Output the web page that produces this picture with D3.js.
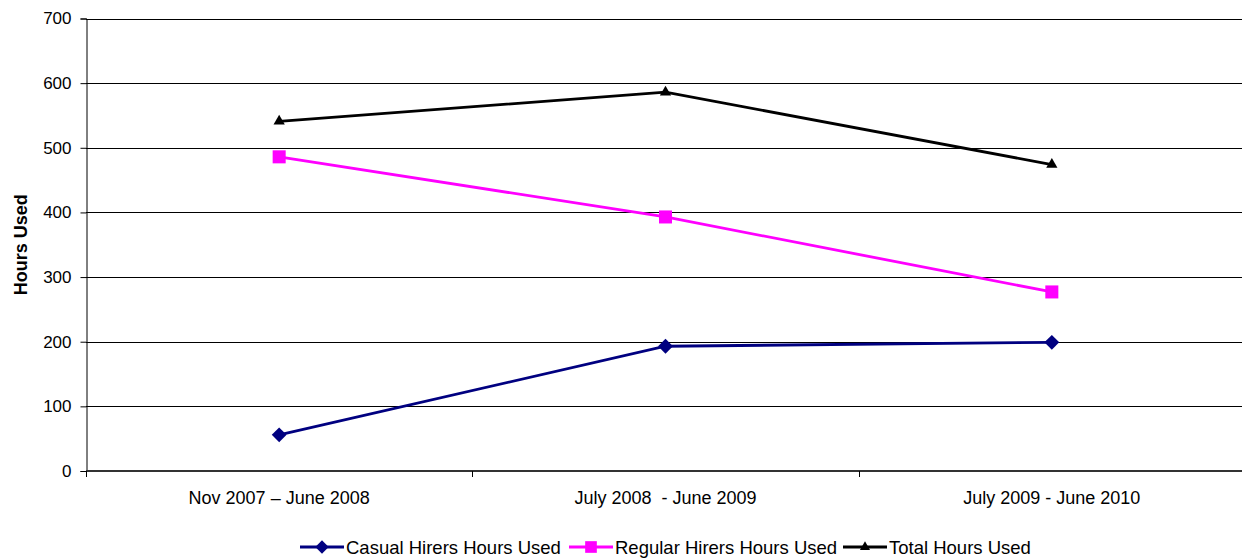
<!DOCTYPE html>
<html><head><meta charset="utf-8">
<script src="https://cdn.jsdelivr.net/npm/d3@7"></script>
<style>body{margin:0;background:#fff}svg{display:block;font-family:"Liberation Sans",Arial,sans-serif}</style>
</head><body>
<svg id="c" width="1242" height="558"></svg>
<script>
const categories = ["Nov 2007 \u2013 June 2008", "July 2008  - June 2009", "July 2009 - June 2010"];
const casual = [56, 193, 199];
const regular = [486, 393, 277];
const total = [541, 586, 474];
const yTicks = [0, 100, 200, 300, 400, 500, 600, 700];
const seriesNames = ["Casual Hirers Hours Used", "Regular Hirers Hours Used", "Total Hours Used"];

const diamond = {draw(ctx, size) { const r = Math.sqrt(size / 2); ctx.moveTo(0, -r); ctx.lineTo(r, 0); ctx.lineTo(0, r); ctx.lineTo(-r, 0); ctx.closePath(); }};

const series = [
  {name: seriesNames[0], values: casual, color: "#000080", sym: diamond, size: 110},
  {name: seriesNames[1], values: regular, color: "#FF00FF", sym: d3.symbolSquare, size: 170},
  {name: seriesNames[2], values: total, color: "#000000", sym: d3.symbolTriangle, size: 55}
];

const svg = d3.select("#c");
const L = 86, R = 1245, T = 18.5, B = 471;
const x = d3.scaleBand().domain(categories).range([L, R]);
const y = d3.scaleLinear().domain([0, 700]).range([B, T]);

// gridlines
svg.append("g").selectAll("line").data(yTicks.filter(d => d > 0)).join("line")
  .attr("x1", L).attr("x2", R)
  .attr("y1", d => Math.round(y(d)) + 0.5).attr("y2", d => Math.round(y(d)) + 0.5)
  .attr("stroke", "#000").attr("stroke-width", 1);

// y axis
const ya = svg.append("g").attr("transform", `translate(${L + 0.5},0)`)
  .call(d3.axisLeft(y).tickValues(yTicks).tickSize(6).tickPadding(9).tickFormat(d3.format("d")));
ya.select(".domain").attr("stroke", "#000");
ya.selectAll(".tick line").attr("stroke", "#000");
ya.selectAll(".tick text").attr("font-size", 17).attr("fill", "#000").attr("font-family", "Liberation Sans, Arial, sans-serif");

// x axis
const xa = svg.append("g").attr("transform", `translate(0,${B})`);
xa.append("line").attr("x1", L).attr("x2", R).attr("y1", 0).attr("y2", 0).attr("stroke", "#333").attr("stroke-width", 2);
const bounds = categories.map(c => x(c)).concat([R]);
xa.selectAll("line.tk").data(bounds).join("line").attr("class", "tk")
  .attr("x1", d => Math.round(d) + 0.5).attr("x2", d => Math.round(d) + 0.5)
  .attr("y1", 0).attr("y2", 6).attr("stroke", "#000");
xa.selectAll("text").data(categories).join("text")
  .attr("x", d => x(d) + x.bandwidth() / 2).attr("y", 33)
  .attr("text-anchor", "middle").attr("font-size", 18).attr("fill", "#000")
  .style("white-space", "pre").attr("xml:space", "preserve")
  .text(d => d);

// y title
svg.append("text").attr("transform", `translate(27,${(T + B) / 2}) rotate(-90)`)
  .attr("text-anchor", "middle").attr("font-size", 18).attr("font-weight", "bold").text("Hours Used");

// series
const line = d3.line().x((d, i) => x(categories[i]) + x.bandwidth() / 2).y(d => y(d));
series.forEach(s => {
  svg.append("path").datum(s.values).attr("d", line).attr("fill", "none")
    .attr("stroke", s.color).attr("stroke-width", 2.8);
  svg.append("g").selectAll("path").data(s.values).join("path")
    .attr("transform", (d, i) => `translate(${x(categories[i]) + x.bandwidth() / 2},${y(d)})`)
    .attr("d", d3.symbol().type(s.sym).size(s.size)).attr("fill", s.color);
});

// legend
const legX = [300, 569, 843];
const ly = 547;
series.forEach((s, i) => {
  const g = svg.append("g").attr("transform", `translate(${legX[i]},${ly})`);
  g.append("line").attr("x1", 0).attr("x2", 44).attr("stroke", s.color).attr("stroke-width", 2.8);
  g.append("path").attr("transform", "translate(22,0)").attr("d", d3.symbol().type(s.sym).size(s.size * 0.8)).attr("fill", s.color);
  g.append("text").attr("x", 46).attr("y", 6.5).attr("font-size", 18.5).attr("fill", "#000").text(s.name);
});
</script>
</body></html>
